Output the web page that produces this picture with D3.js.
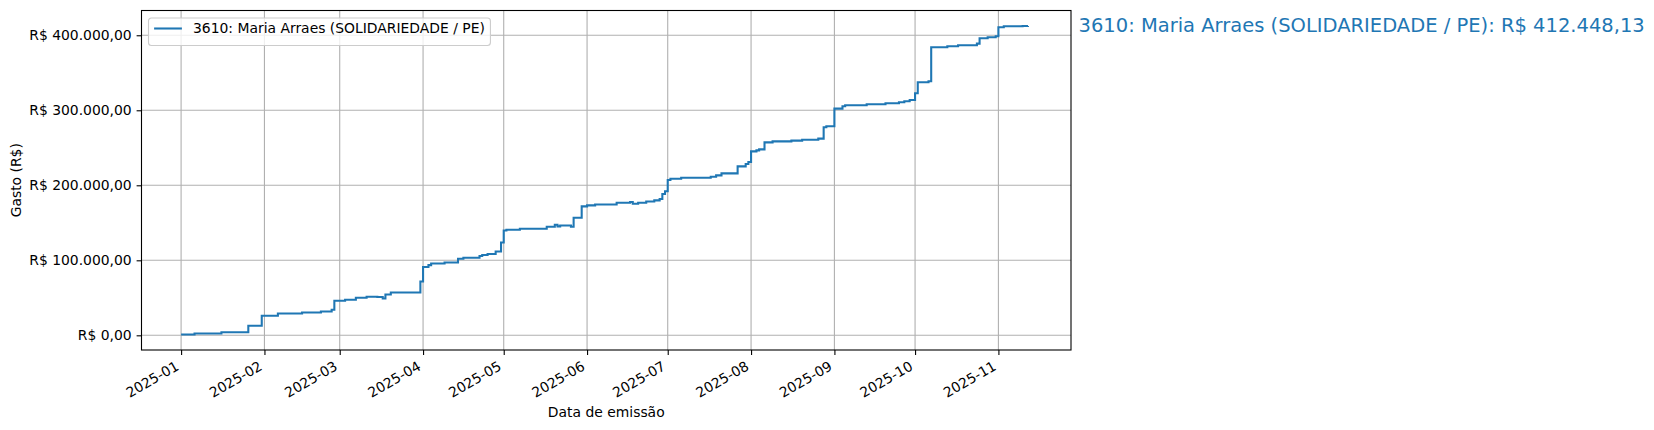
<!DOCTYPE html>
<html>
<head>
<meta charset="utf-8">
<script src="https://cdnjs.cloudflare.com/ajax/libs/d3/7.8.5/d3.min.js"></script>
<style>
  body { margin: 0; background: #fff; }
  svg text { font-family: "DejaVu Sans", sans-serif; fill: #000; }
</style>
</head>
<body>
<div id="chart"></div>
<script>
// cumulative spending (step points)
var dates = [
  "2025-01-01","2025-01-06","2025-01-16","2025-01-26","2025-01-31","2025-02-06","2025-02-15",
  "2025-02-22","2025-02-26","2025-02-27","2025-03-03","2025-03-07","2025-03-11","2025-03-15",
  "2025-03-17","2025-03-18","2025-03-20","2025-03-31","2025-04-01","2025-04-03","2025-04-04",
  "2025-04-09","2025-04-14","2025-04-16","2025-04-22","2025-04-23","2025-04-25","2025-04-28",
  "2025-04-30","2025-05-01","2025-05-02","2025-05-07","2025-05-17","2025-05-20","2025-05-21",
  "2025-05-22","2025-05-26","2025-05-27","2025-05-30","2025-06-01","2025-06-04","2025-06-12",
  "2025-06-17","2025-06-18","2025-06-20","2025-06-23","2025-06-26","2025-06-28","2025-06-29",
  "2025-06-30","2025-07-01","2025-07-02","2025-07-06","2025-07-17","2025-07-19","2025-07-21",
  "2025-07-27","2025-07-30","2025-07-31","2025-08-01","2025-08-03","2025-08-04","2025-08-06",
  "2025-08-09","2025-08-16","2025-08-20","2025-08-26","2025-08-28","2025-08-29","2025-09-01",
  "2025-09-04","2025-09-05","2025-09-13","2025-09-20","2025-09-25","2025-09-27","2025-09-29",
  "2025-10-01","2025-10-02","2025-10-06","2025-10-07","2025-10-13","2025-10-17","2025-10-24",
  "2025-10-25","2025-10-28","2025-10-31","2025-11-01","2025-11-03","2025-11-10","2025-11-12"
];
var totals = [
  1000, 2400, 4200, 12700, 26000, 29000, 30400,
  31800, 34000, 46000, 47400, 50000, 51400, 51000,
  49000, 54400, 57000, 71800, 91000, 93600, 95800,
  97100, 102000, 103400, 105700, 107000, 108300, 111800,
  123800, 139800, 140800, 142000, 144800, 147400, 145200,
  146500, 144800, 156800, 171900, 173200, 174500, 176800,
  177700, 175500, 176800, 178500, 179900, 181700, 188500,
  192000, 207000, 208800, 210100, 211500, 213200, 215900,
  225200, 228400, 231100, 245200, 246600, 247900, 257200,
  258600, 259500, 260800, 262200, 277300, 278600, 302200,
  305300, 306600, 308000, 309300, 310600, 312000, 313800,
  322600, 337300, 338600, 384000, 385300, 386700, 388900,
  396000, 397300, 398600, 410700, 412000, 412300, 412448.13
];
var seriesName = "3610: Maria Arraes (SOLIDARIEDADE / PE)";
var xLimits = ["2024-12-17T06:30", "2025-11-28T00:00"];
var yTicks = [0, 100000, 200000, 300000, 400000];
var xLabel = "Data de emissão";
var yLabel = "Gasto (R$)";

var W = 1654, H = 430;
var margin = {left: 141.5, right: W - 1071, top: 10.5, bottom: H - 350};
var blue = "#1f77b4";

var parse = d3.utcParse("%Y-%m-%d");
var parseLim = d3.utcParse("%Y-%m-%dT%H:%M");
var data = dates.map(function(d, i) { return {date: parse(d), value: totals[i]}; });

var ptBR = d3.formatLocale({decimal: ",", thousands: ".", grouping: [3], currency: ["R$ ", ""]});
var money = ptBR.format("$,.2f");

var svg = d3.select("#chart").append("svg")
  .attr("width", W).attr("height", H);

var x = d3.scaleUtc()
  .domain(xLimits.map(parseLim))
  .range([margin.left, W - margin.right]);

// y domain with matplotlib-like 5% margins
var yExt = d3.extent(data, function(d) { return d.value; });
var yPad = (yExt[1] - yExt[0]) * 0.05;
var y = d3.scaleLinear()
  .domain([yExt[0] - yPad, yExt[1] + yPad])
  .range([H - margin.bottom, margin.top]);

var xTicks = d3.utcMonth.range(d3.utcMonth.ceil(x.domain()[0]), x.domain()[1]);

// grid
var grid = svg.append("g");
grid.selectAll(".vg").data(xTicks).enter().append("line")
  .attr("x1", function(d) { return x(d); }).attr("x2", function(d) { return x(d); })
  .attr("y1", margin.top).attr("y2", H - margin.bottom)
  .style("stroke", "#b0b0b0").style("stroke-width", 1.1);
grid.selectAll(".hg").data(yTicks).enter().append("line")
  .attr("x1", margin.left).attr("x2", W - margin.right)
  .attr("y1", function(d) { return y(d); }).attr("y2", function(d) { return y(d); })
  .style("stroke", "#b0b0b0").style("stroke-width", 1.1);

// step line
var line = d3.line()
  .x(function(d) { return x(d.date); })
  .y(function(d) { return y(d.value); })
  .curve(d3.curveStepAfter);
svg.append("path").datum(data)
  .attr("d", line)
  .style("fill", "none").style("stroke", blue).style("stroke-width", 2.08)
  .style("stroke-linejoin", "miter");

// axes
var xAxis = svg.append("g")
  .attr("transform", "translate(0," + (H - margin.bottom) + ")")
  .call(d3.axisBottom(x).tickValues(xTicks).tickFormat(d3.utcFormat("%Y-%m")).tickSize(4.9).tickPadding(4.9));
xAxis.selectAll("text")
  .style("font-size", "13.9px")
  .attr("text-anchor", "end")
  .attr("dy", null)
  .attr("y", null)
  .attr("transform", "translate(-1.7,19) rotate(-30)");

var yAxis = svg.append("g")
  .attr("transform", "translate(" + margin.left + ",0)")
  .call(d3.axisLeft(y).tickValues(yTicks).tickFormat(money).tickSize(4.9).tickPadding(4.9));
yAxis.selectAll("text").style("font-size", "13.9px");

svg.selectAll(".domain").remove();
svg.selectAll(".tick line").style("stroke", "#000").style("stroke-width", 1.1);

// frame
svg.append("rect")
  .attr("x", margin.left).attr("y", margin.top)
  .attr("width", W - margin.left - margin.right)
  .attr("height", H - margin.top - margin.bottom)
  .style("fill", "none").style("stroke", "#000").style("stroke-width", 1.1);

// axis labels
svg.append("text")
  .attr("x", (margin.left + W - margin.right) / 2).attr("y", 417)
  .attr("text-anchor", "middle").style("font-size", "13.9px")
  .text(xLabel);
svg.append("text")
  .attr("transform", "translate(21," + ((margin.top + H - margin.bottom) / 2) + ") rotate(-90)")
  .attr("text-anchor", "middle").style("font-size", "13.9px")
  .text(yLabel);

// legend
var lg = svg.append("g").attr("transform", "translate(148.5,18)");
var lgBox = lg.append("rect")
  .attr("rx", 3).attr("ry", 3)
  .style("fill", "#fff").style("fill-opacity", 0.8)
  .style("stroke", "#cccccc").style("stroke-width", 1.1);
lg.append("line")
  .attr("x1", 5.6).attr("x2", 33.4).attr("y1", 10.5).attr("y2", 10.5)
  .style("stroke", blue).style("stroke-width", 2.08);
var lgText = lg.append("text")
  .attr("x", 44.5).attr("y", 15.3)
  .style("font-size", "13.9px")
  .text(seriesName);
var tw = lgText.node().getComputedTextLength();
lgBox.attr("width", 44.5 + tw + 5.6).attr("height", 27.5);

// final total annotation
var last = data[data.length - 1];
svg.append("text")
  .attr("x", 1078.5).attr("y", 31.7)
  .style("font-size", "19.5px").style("fill", blue)
  .text(seriesName + ": " + money(last.value));
</script>
</body>
</html>
